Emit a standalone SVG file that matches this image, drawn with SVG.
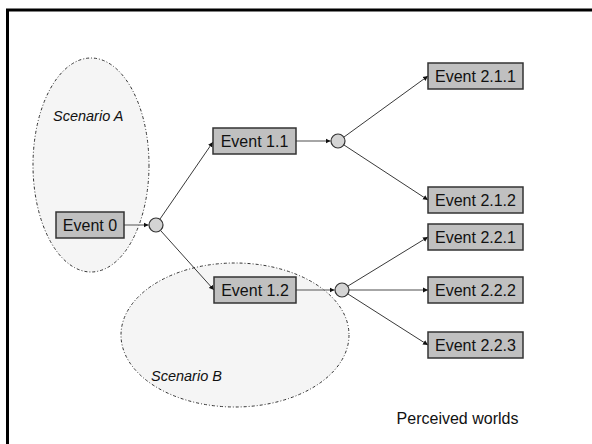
<svg xmlns="http://www.w3.org/2000/svg" width="592" height="444" viewBox="0 0 592 444">
  <style>
    .scen { fill: #f5f5f5; stroke: #333; stroke-width: 1; stroke-dasharray: 3 2 1 2; }
    .box { fill: #c0c0c0; stroke: #333; stroke-width: 1.5; }
    .node { fill: #d4d4d4; stroke: #333; stroke-width: 1.2; }
    .lbl { font-family: "Liberation Sans", Arial, sans-serif; font-size: 16px; fill: #111; text-anchor: middle; }
    .it { font-family: "Liberation Sans", Arial, sans-serif; font-size: 14.5px; font-style: italic; fill: #111; }
    .ln { fill: none; stroke: #222; stroke-width: 0.9; }
    .hz { fill: none; stroke: #888; stroke-width: 1.5; }
  </style>
  <defs>
    <marker id="ah" markerUnits="userSpaceOnUse" markerWidth="6" markerHeight="6" refX="5" refY="3" orient="auto">
      <path d="M0,0.5 L5,3 L0,5.5 Z" fill="#111"/>
    </marker>
  </defs>

  <rect x="0" y="0" width="592" height="444" fill="#fff"/>
  <!-- frame -->
  <path d="M7.5,444 V10 H592" fill="none" stroke="#000" stroke-width="3"/>

  <!-- scenario regions -->
  <g id="scenario-a">
    <ellipse class="scen" cx="91" cy="165" rx="58" ry="107"/>
    <text class="it" x="53" y="121">Scenario A</text>
  </g>
  <g id="scenario-b">
    <ellipse class="scen" cx="235" cy="335" rx="114" ry="72"/>
    <text class="it" x="151" y="381">Scenario B</text>
  </g>

  <!-- connectors -->
  <g id="connectors">
    <line class="hz" x1="124" y1="225" x2="148.5" y2="225" marker-end="url(#ah)"/>
    <line class="ln" x1="160" y1="219" x2="213" y2="142" marker-end="url(#ah)"/>
    <line class="ln" x1="161" y1="231" x2="214" y2="290" marker-end="url(#ah)"/>
    <line class="hz" x1="296" y1="141" x2="330.5" y2="141" marker-end="url(#ah)"/>
    <line class="hz" x1="296" y1="290" x2="334.5" y2="290" marker-end="url(#ah)"/>
    <line class="ln" x1="344" y1="137" x2="428" y2="76" marker-end="url(#ah)"/>
    <line class="ln" x1="344" y1="145" x2="428" y2="200" marker-end="url(#ah)"/>
    <line class="ln" x1="348" y1="286" x2="428" y2="237" marker-end="url(#ah)"/>
    <line class="hz" x1="349" y1="290" x2="428" y2="290" marker-end="url(#ah)"/>
    <line class="ln" x1="348" y1="294" x2="428" y2="345" marker-end="url(#ah)"/>
  </g>

  <!-- chance nodes -->
  <g id="node-0"><circle class="node" cx="156" cy="225" r="7"/></g>
  <g id="node-1"><circle class="node" cx="338" cy="141" r="7"/></g>
  <g id="node-2"><circle class="node" cx="342" cy="290" r="7"/></g>

  <!-- events -->
  <g id="event-0">
    <rect class="box" x="56" y="212" width="68" height="26"/>
    <text class="lbl" x="90" y="231">Event 0</text>
  </g>
  <g id="event-1-1">
    <rect class="box" x="213" y="128" width="83" height="26"/>
    <text class="lbl" x="254.5" y="147">Event 1.1</text>
  </g>
  <g id="event-1-2">
    <rect class="box" x="214" y="277" width="82" height="26"/>
    <text class="lbl" x="255" y="296">Event 1.2</text>
  </g>
  <g id="event-2-1-1">
    <rect class="box" x="428" y="63" width="95" height="26"/>
    <text class="lbl" x="475.5" y="82">Event 2.1.1</text>
  </g>
  <g id="event-2-1-2">
    <rect class="box" x="428" y="187" width="95" height="26"/>
    <text class="lbl" x="475.5" y="206">Event 2.1.2</text>
  </g>
  <g id="event-2-2-1">
    <rect class="box" x="428" y="224" width="95" height="26"/>
    <text class="lbl" x="475.5" y="243">Event 2.2.1</text>
  </g>
  <g id="event-2-2-2">
    <rect class="box" x="428" y="277" width="95" height="26"/>
    <text class="lbl" x="475.5" y="296">Event 2.2.2</text>
  </g>
  <g id="event-2-2-3">
    <rect class="box" x="428" y="332" width="95" height="26"/>
    <text class="lbl" x="475.5" y="351">Event 2.2.3</text>
  </g>

  <text class="lbl" x="457.5" y="424">Perceived worlds</text>
</svg>
